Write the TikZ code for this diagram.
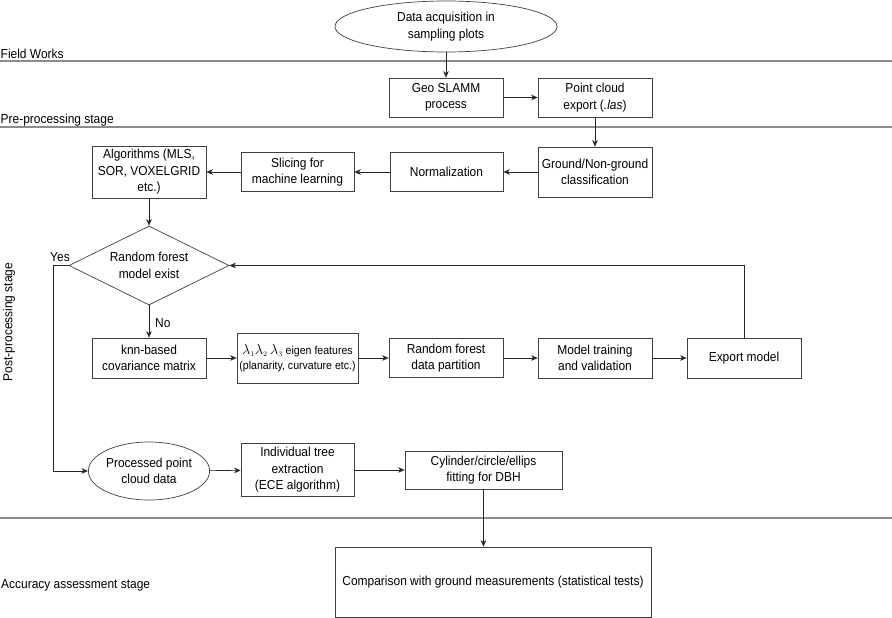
\documentclass[tikz,border=0pt]{standalone}
\usepackage{fontspec}
\setmainfont{Liberation Sans}[FakeStretch=0.92]
\usetikzlibrary{shapes.geometric,arrows.meta}
\begin{document}
\begin{tikzpicture}[x=1pt,y=-1pt, font=\fontsize{13}{16.5}\selectfont,
 box/.style={draw=black!75, line width=0.7pt, rectangle, align=center, inner sep=1pt},
 ell/.style={draw=black!75, line width=0.7pt, ellipse, align=center, inner sep=0pt},
 dia/.style={draw=black!75, line width=0.7pt, diamond, align=center, inner sep=0pt},
 arr/.style={-{Stealth[length=6.5pt,width=5.5pt,inset=2pt]}, line width=0.6pt, draw=black!85},
 sep/.style={draw=black!45, line width=1.2pt},
 lab/.style={inner sep=0pt}]
\useasboundingbox (0,0) rectangle (892,618);
% separators
\coordinate (s1a) at (0,61); \coordinate (s1b) at (892,61);
\coordinate (s2a) at (0,127); \coordinate (s2b) at (892,127);
\coordinate (s3a) at (0,518); \coordinate (s3b) at (892,518);
\draw[sep] (s1a) -- (s1b);
\draw[sep] (s2a) -- (s2b);
\draw[sep] (s3a) -- (s3b);
% stage labels
\node[lab, anchor=base west] (fw) at (0.5,58.5) {Field Works};
\node[lab, anchor=base west] (pre) at (0.5,124) {Pre-processing stage};
\node[lab, rotate=90] (post) at (9,322) {Post-processing stage};
\node[lab, anchor=west] (acc) at (1,585) {Accuracy assessment stage};
% nodes
\node[ell, minimum width=222pt, minimum height=51pt] (data) at (446,26.5) {Data acquisition in\\sampling plots};
\node[box, minimum width=114pt, minimum height=39pt] (geo) at (446,97.5) {Geo SLAMM\\process};
\node[box, minimum width=114pt, minimum height=39pt] (pce) at (595,97.5) {Point cloud\\export (\textit{.las})};
\node[box, minimum width=114pt, minimum height=50pt] (gnd) at (595,172) {Ground/Non-ground\\classification};
\node[box, minimum width=113pt, minimum height=39pt] (norm) at (446.5,172) {Normalization};
\node[box, minimum width=113pt, minimum height=39pt] (slice) at (297.5,172) {Slicing for\\machine learning};
\node[box, minimum width=114pt, minimum height=52pt] (alg) at (149,172) {Algorithms (MLS,\\SOR, VOXELGRID\\etc.)};
\node[dia, aspect=2.03, minimum width=160pt, minimum height=79pt] (rfe) at (149,265.5) {Random forest\\model exist};
\node[box, minimum width=114pt, minimum height=40pt] (knn) at (149,358) {knn-based\\covariance matrix};
\node[box, minimum width=121pt, minimum height=50pt, font=\fontsize{11.5}{15}\selectfont, inner sep=0pt] (eig) at (297.5,358) {{\fontsize{14}{15}\selectfont$\lambda_{\scriptscriptstyle 1}\lambda_{\scriptscriptstyle 2}\,\lambda_{\scriptscriptstyle 3}$} eigen features\\(planarity, curvature etc.)};
\node[box, minimum width=114pt, minimum height=39pt] (rfp) at (446,358) {Random forest\\data partition};
\node[box, minimum width=114pt, minimum height=40pt] (mtv) at (595,358) {Model training\\and validation};
\node[box, minimum width=114pt, minimum height=40pt] (exp) at (744,358) {Export model};
\node[ell, minimum width=121pt, minimum height=58pt] (ppc) at (149,471) {Processed point\\cloud data};
\node[box, minimum width=113pt, minimum height=53pt] (ite) at (297.5,470) {Individual tree\\extraction\\(ECE algorithm)};
\node[box, minimum width=157pt, minimum height=38pt] (cyl) at (483.5,470) {Cylinder/circle/ellips\\fitting for DBH};
\node[box, minimum width=316pt, minimum height=70pt] (cmp) at (493,582) {Comparison with ground measurements (statistical tests)};
% connectors
\draw[arr] (data) -- (geo);
\draw[arr] (geo) -- (pce);
\draw[arr] (pce) -- (gnd);
\draw[arr] (gnd) -- (norm);
\draw[arr] (norm) -- (slice);
\draw[arr] (slice) -- (alg);
\draw[arr] (alg) -- (rfe);
\coordinate (yc1) at (53,265.5);
\coordinate (yc2) at (53,471);
\draw[arr] (rfe.west) -- (yc1) -- (yc2) -- (ppc.west);
\node[lab, anchor=base] (yes) at (60,261) {Yes};
\draw[arr] (rfe.south) -- (knn.north);
\node[lab, anchor=base west] (no) at (155,327) {No};
\draw[arr] (knn) -- (eig);
\draw[arr] (eig) -- (rfp);
\draw[arr] (rfp) -- (mtv);
\draw[arr] (mtv) -- (exp);
\coordinate (ec) at (744,265.5);
\draw[arr] (exp.north) -- (ec) -- (rfe.east);
\draw[arr] (ppc) -- (ite);
\draw[arr] (ite) -- (cyl);
\draw[arr] (cyl.south) -- (cyl.south |- cmp.north);
\end{tikzpicture}
\end{document}
